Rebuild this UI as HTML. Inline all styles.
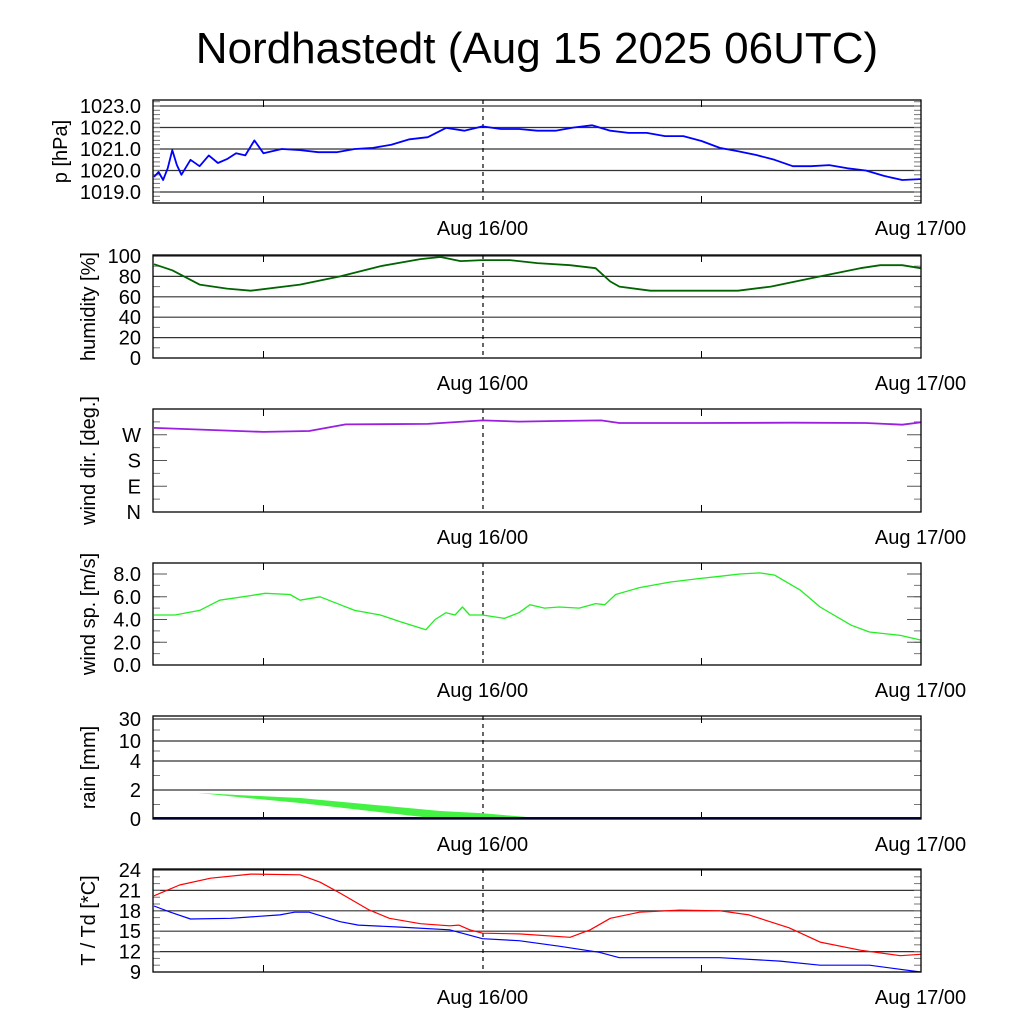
<!DOCTYPE html>
<html><head><meta charset="utf-8"><style>
body{margin:0;background:#fff}
svg{display:block}
text{font-family:"Liberation Sans",sans-serif;fill:#000}
</style></head><body>
<svg id="c" width="1024" height="1024" viewBox="0 0 1024 1024">
<text x="537" y="63" font-size="44" text-anchor="middle">Nordhastedt (Aug 15 2025 06UTC)</text>
</svg>
<script>
// time in hours since Aug 15 06UTC
const xLabels = ["Aug 16/00", "Aug 17/00"];
const xLabelHours = [18, 42];
const minorHours = [6, 30];

const pT = [0,0.25,0.5,0.75,1,1.25,1.5,2,2.5,3,3.5,4,4.5,5,5.5,6,7,8,9,10,11,12,13,14,15,16,17,18,19,20,21,22,23,24,25,26,27,28,29,30,31,32,33,34,35,36,37,38,39,40,41,42];
const pV = [1019.7,1019.93,1019.56,1020.1,1020.95,1020.26,1019.8,1020.5,1020.2,1020.7,1020.35,1020.53,1020.8,1020.7,1021.4,1020.8,1021.0,1020.95,1020.85,1020.85,1021.0,1021.05,1021.2,1021.45,1021.55,1021.98,1021.85,1022.05,1021.93,1021.93,1021.85,1021.85,1022.0,1022.1,1021.85,1021.75,1021.75,1021.6,1021.6,1021.37,1021.05,1020.9,1020.72,1020.5,1020.2,1020.2,1020.25,1020.1,1020.0,1019.75,1019.56,1019.6];

const hT = [0,1,2.5,4,5.3,8,10.2,12.4,14.6,15.7,16.8,18,19.5,21,22.8,24.2,25,25.5,27.2,32,33.8,36.5,38.7,39.8,41,42];
const hV = [92,86,72,68,66,72,80,90,97,99,95,96,96,93,91,88,75,70,66,66,70,80,88,91,91,88];

const dT = [0,6,8.5,10.5,15,18,20,22,24.5,25.5,30,35,39,41,42];
const dV = [294,280,283,306,308,320,316,318,320,311,311,312,311,305,313];

const sT = [0,1.15,2.5,3.6,5.3,6.1,7.45,8,9.1,10.2,11,12.4,13.5,14.9,15.4,16,16.5,16.9,17.3,18,19.2,20,20.6,21.4,22.2,23.3,24.2,24.7,25.3,26.6,28.3,29.9,31,32.1,33.2,34,35.4,36.5,38.2,39.2,40.9,42];
const sV = [4.4,4.4,4.8,5.7,6.1,6.3,6.2,5.7,6.0,5.3,4.8,4.4,3.8,3.1,4.0,4.6,4.4,5.1,4.4,4.4,4.1,4.6,5.3,5.0,5.1,5.0,5.4,5.3,6.2,6.8,7.3,7.6,7.8,8.0,8.1,7.9,6.6,5.1,3.5,2.9,2.6,2.2];

const rT = [2.4,4.7,8,15.7,18,21.7];
const rHi = [1.8,1.65,1.45,0.55,0.4,0];
const rLo = [1.8,1.5,1.1,0,0,0];

const tT = [0,1.4,3.1,5.3,8,9.1,10.2,11.8,12.9,14.6,16.2,16.7,17.3,18,20,22.8,23.9,25,26.6,28.8,31,32.6,34.8,36.5,38.7,40.9,42];
const tV = [20.2,21.8,22.8,23.4,23.3,22.2,20.6,18.1,16.9,16.1,15.8,15.9,15.2,14.7,14.6,14.1,15.2,16.9,17.8,18.1,18.0,17.4,15.5,13.4,12.2,11.4,11.6];
const tdT = [0,0.9,2.0,4.2,6.9,7.7,8.5,10.2,11.2,13.5,16.2,18,20,22.2,24.4,25.5,28.8,31,34.3,36.5,39.2,42];
const tdV = [18.7,17.8,16.8,16.9,17.4,17.8,17.8,16.4,15.9,15.6,15.2,13.9,13.6,12.8,11.9,11.1,11.1,11.1,10.6,10.0,10.0,9.0];

const NS="http://www.w3.org/2000/svg";
const svg=document.getElementById('c');
const X0=154, PXH=18.25, L=153, R=921;
const xs=t=>X0+t*PXH;
function el(tag,attrs,parent){const e=document.createElementNS(NS,tag);for(const k in attrs)e.setAttribute(k,attrs[k]);(parent||svg).appendChild(e);return e;}

function panel(name,top,bot,ymap,grid,labels,minor,title,titleX){
  const g=el('g',{});
  
  
  grid.forEach(v=>{const y=ymap(v);const l=el('line',{x1:L,x2:R,y1:y,y2:y,stroke:'#333','stroke-width':1.2},g);
    });
  minor.forEach(v=>{const y=ymap(v);el('line',{x1:L,x2:L+7,y1:y,y2:y,stroke:'#777','stroke-width':1},g);el('line',{x1:R-7,x2:R,y1:y,y2:y,stroke:'#777','stroke-width':1},g);});
  labels.forEach(([v,s])=>{const t=el('text',{x:141,y:ymap(v)+7,'font-size':20,'text-anchor':'end'},g);t.textContent=s;
    });
  const dl=el('line',{x1:483,x2:483,y1:top,y2:bot,stroke:'#000','stroke-width':1.2,'stroke-dasharray':'4,4'},g);
  
  minorHours.forEach(h=>{el('line',{x1:xs(h),x2:xs(h),y1:bot,y2:bot-7,stroke:'#000'},g);el('line',{x1:xs(h),x2:xs(h),y1:top,y2:top+7,stroke:'#000'},g);});
  xLabelHours.forEach((h,i)=>{const t=el('text',{x:xs(h),y:bot+32,'font-size':20,'text-anchor':'middle'},g);t.textContent=xLabels[i];
    });
  const tt=el('text',{x:0,y:0,'font-size':20,'text-anchor':'middle',transform:`translate(${titleX||95},${(top+bot)/2}) rotate(-90)`},g);tt.textContent=title;
  
  return g;
}
function frame(g,name,top,bot){const r=el('rect',{x:L,y:top,width:R-L,height:bot-top,fill:'none',stroke:'#000','stroke-width':1.3},g);
  }
function line(g,name,T,V,ymap,color,w){const d=T.map((t,i)=>(i?'L':'M')+xs(t).toFixed(1)+','+ymap(V[i]).toFixed(1)).join('');
  const p=el('path',{d:d,fill:'none',stroke:color,'stroke-width':w,'stroke-linejoin':'round'},g);
  return p;}
function range(a,b,s){const r=[];for(let v=a;v<=b+1e-9;v+=s)r.push(+v.toFixed(3));return r;}

// pressure
{const top=100,bot=203,ym=v=>106+(1023-v)*21.5;
 const g=panel('pressure',top,bot,ym,[1019,1020,1021,1022,1023],[[1023,'1023.0'],[1022,'1022.0'],[1021,'1021.0'],[1020,'1020.0'],[1019,'1019.0']],range(1018.6,1023.2,0.2),'p [hPa]',67);
 line(g,'pressure-line',pT,pV,ym,'#0000ff',1.8);frame(g,'pressure',top,bot);}
// humidity
{const top=255,bot=358,ym=v=>358-v*1.02;
 const g=panel('humidity',top,bot,ym,[20,40,60,80,100],[[100,'100'],[80,'80'],[60,'60'],[40,'40'],[20,'20'],[0,'0']],range(10,90,20),'humidity [%]');
 line(g,'humidity-line',hT,hV,ym,'#006400',1.8);frame(g,'humidity',top,bot);}
// wind direction
{const top=409,bot=512,ym=v=>512-v*(103/360);
 const g=panel('wind-dir',top,bot,ym,[],[[270,'W'],[180,'S'],[90,'E'],[0,'N']],[45,135,225,315],'wind dir. [deg.]');
 [90,180,270].forEach(v=>{el('line',{x1:L,x2:L+14,y1:ym(v),y2:ym(v),stroke:'#555'},g);el('line',{x1:R-14,x2:R,y1:ym(v),y2:ym(v),stroke:'#555'},g);});
 line(g,'wind-dir-line',dT,dV,ym,'#9a1fe0',1.8);frame(g,'wind-dir',top,bot);}
// wind speed
{const top=563,bot=665,ym=v=>665-v*11.375;
 const g=panel('wind-speed',top,bot,ym,[],[[8,'8.0'],[6,'6.0'],[4,'4.0'],[2,'2.0'],[0,'0.0']],range(1,8,1),'wind sp. [m/s]');
 [2,4,6,8].forEach(v=>{el('line',{x1:L,x2:L+14,y1:ym(v),y2:ym(v),stroke:'#555'},g);el('line',{x1:R-14,x2:R,y1:ym(v),y2:ym(v),stroke:'#555'},g);});
 line(g,'wind-speed-line',sT,sV,ym,'#22ee22',1.3);frame(g,'wind-speed',top,bot);}
// rain
{const top=716,bot=819;
 const ym=v=>v<=2?819-v*14.5:v<=4?790-(v-2)*14.5:v<=10?761-(v-4)*(20/6):741-(v-10)*1.1;
 const g=panel('rain',top,bot,ym,[2,4,10,30],[[30,'30'],[10,'10'],[4,'4'],[2,'2'],[0,'0']],[1,3,7,20],'rain [mm]');
 const pts=rT.map((t,i)=>xs(t).toFixed(1)+','+ym(rHi[i]).toFixed(1)).concat(rT.slice().reverse().map((t,j)=>{const i=rT.length-1-j;return xs(t).toFixed(1)+','+ym(rLo[i]).toFixed(1);}));
 const p=el('polygon',{points:pts.join(' '),fill:'#44f244'},g);
 
 const z=el('line',{x1:L,x2:R,y1:818,y2:818,stroke:'#000080','stroke-width':2},g);
 
 frame(g,'rain',top,bot);}
// temperature
{const top=869,bot=972,ym=v=>870+(24-v)*6.8;
 const g=panel('temperature',top,bot,ym,[12,15,18,21,24],[[24,'24'],[21,'21'],[18,'18'],[15,'15'],[12,'12'],[9,'9']],range(10,23,1),'T / Td [*C]');
 line(g,'temperature-line',tT,tV,ym,'#ff0000',1.2);
 line(g,'dewpoint-line',tdT,tdV,ym,'#0000ff',1.2);
 frame(g,'temperature',top,bot);}
</script>
</body></html>
